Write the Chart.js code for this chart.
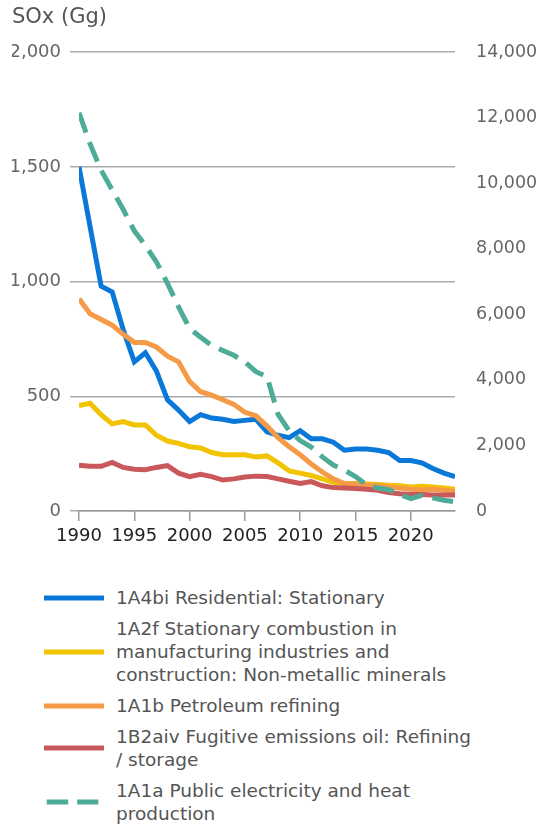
<!DOCTYPE html>
<html>
<head>
<meta charset="utf-8">
<script src="https://cdn.jsdelivr.net/npm/chart.js@4.4.1/dist/chart.umd.min.js"></script>
<style>
  html, body { margin: 0; background: #fff; overflow: hidden; font-family: "DejaVu Sans", sans-serif; }
  #wrap { position: absolute; left: 0; top: 0; width: 539px; height: 560px; }
  #legend { position: absolute; left: 44px; top: 586px; list-style: none; margin: 0; padding: 0; }
  #legend li { display: flex; align-items: center; margin-bottom: 8px; }
  #legend svg { flex: none; margin-right: 12px; }
  #legend span { width: 362px; font-size: 18.5px; line-height: 23px; color: #555; }
</style>
</head>
<body>
<div id="wrap"><canvas id="soxChart"></canvas></div>
<ul id="legend"></ul>
<script>
// Data (Gg SOx)
const years = [1990, 1991, 1992, 1993, 1994, 1995, 1996, 1997, 1998, 1999,
  2000, 2001, 2002, 2003, 2004, 2005, 2006, 2007, 2008, 2009,
  2010, 2011, 2012, 2013, 2014, 2015, 2016, 2017, 2018, 2019,
  2020, 2021, 2022, 2023, 2024];

const residential = [1500, 1240, 980, 955, 790, 650, 690, 610, 485, 440,
  390, 420, 405, 400, 390, 395, 400, 345, 330, 320,
  350, 315, 315, 300, 265, 270, 270, 265, 255, 220,
  220, 210, 185, 165, 150];

const nonMetallic = [460, 470, 420, 380, 390, 375, 375, 330, 305, 295,
  280, 275, 255, 245, 245, 245, 235, 240, 210, 175,
  165, 155, 140, 125, 120, 120, 118, 115, 112, 110,
  105, 108, 105, 100, 95];

const refining = [925, 860, 835, 810, 770, 735, 735, 715, 675, 650,
  565, 520, 505, 485, 465, 430, 415, 370, 320, 280,
  245, 205, 170, 140, 120, 118, 112, 110, 105, 100,
  95, 92, 95, 90, 85];

const fugitive = [200, 195, 195, 212, 190, 182, 180, 190, 198, 165,
  150, 160, 150, 135, 140, 148, 152, 150, 140, 130,
  120, 128, 110, 102, 100, 98, 95, 90, 80, 75,
  72, 72, 70, 70, 70];

// right axis
const publicPower = [12150, 11200, 10400, 9800, 9200, 8550, 8100, 7600, 6950, 6230,
  5570, 5300, 5050, 4900, 4750, 4550, 4250, 4100, 2950, 2450,
  2150, 1950, 1650, 1400, 1250, 1050, 800, 700, 650, 500,
  380, 480, 400, 330, 280];

const leftTicks = { min: 0, max: 2000, step: 500 };
const rightTicks = { min: 0, max: 14000, step: 2000 };

Chart.defaults.font.family = "'DejaVu Sans', sans-serif";

function toPoints(values) {
  return values.map((v, i) => ({ x: years[i], y: v }));
}

function line(label, values, color, order, axis, dash) {
  return {
    label: label,
    data: toPoints(values),
    borderColor: color,
    backgroundColor: color,
    borderWidth: 5,
    borderDash: dash || [],
    pointRadius: 0,
    tension: 0,
    fill: false,
    order: order,
    yAxisID: axis || 'y'
  };
}

const datasets = [
  line('1A4bi Residential: Stationary', residential, '#0a78d8', 4),
  line('1A2f Stationary combustion in manufacturing industries and construction: Non-metallic minerals', nonMetallic, '#f2c300', 3),
  line('1A1b Petroleum refining', refining, '#f59a46', 2),
  line('1B2aiv Fugitive emissions oil: Refining / storage', fugitive, '#c9585a', 1),
  line('1A1a Public electricity and heat production', publicPower, '#4eab98', 0, 'y2', [21, 10])
];

const chart = new Chart(document.getElementById('soxChart'), {
  type: 'line',
  data: { datasets: datasets },
  options: {
    responsive: true,
    maintainAspectRatio: false,
    animation: false,
    layout: { padding: { left: 12 } },
    plugins: {
      legend: { display: false },
      tooltip: { enabled: false },
      title: {
        display: true,
        text: 'SOx (Gg)',
        align: 'start',
        color: '#555',
        font: { size: 21, weight: 'normal' },
        padding: { top: 5, bottom: 22 }
      }
    },
    scales: {
      x: {
        type: 'linear',
        min: years[0],
        max: years[years.length - 1],
        border: { display: true, color: '#999', width: 1.5 },
        grid: { drawOnChartArea: false, tickLength: 10, color: '#999', lineWidth: 1.5 },
        ticks: {
          stepSize: 5, includeBounds: false, maxRotation: 0, padding: 5,
          color: '#222', font: { size: 18 },
          callback: v => String(v)
        },
        afterFit: s => { s.height = 49; }
      },
      y: {
        position: 'left',
        min: leftTicks.min,
        max: leftTicks.max,
        border: { display: false },
        grid: { color: '#aaa', lineWidth: 1.5, tickLength: 9 },
        ticks: { stepSize: leftTicks.step, padding: 9, color: '#666', font: { size: 18 } },
        afterFit: s => { s.width = 67; }
      },
      y2: {
        position: 'right',
        min: rightTicks.min,
        max: rightTicks.max,
        border: { display: false },
        grid: { display: false },
        ticks: { stepSize: rightTicks.step, padding: 13, color: '#666', font: { size: 17.5 } },
        afterFit: s => { s.width = 84; }
      }
    }
  }
});

// HTML legend so long labels can wrap
const legend = document.getElementById('legend');
chart.data.datasets.forEach(ds => {
  const dashed = ds.borderDash.length > 0;
  const li = document.createElement('li');
  li.innerHTML = `
    <svg width="60" height="6"><line x1="${dashed ? 2.7 : 0}" y1="3" x2="${dashed ? 54.3 : 60}" y2="3"
      stroke="${ds.borderColor}" stroke-width="5" stroke-dasharray="${dashed ? '21.5 9' : 'none'}"/></svg>
    <span>${ds.label}</span>`;
  legend.appendChild(li);
});
</script>
</body>
</html>
